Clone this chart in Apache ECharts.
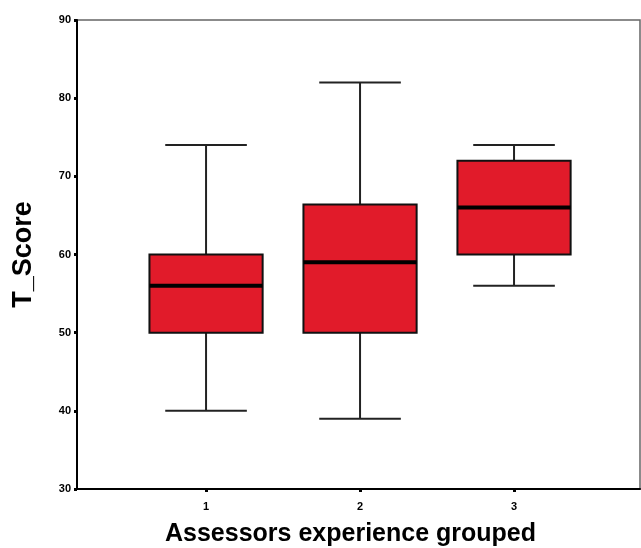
<!DOCTYPE html>
<html>
<head>
<meta charset="utf-8">
<script src="https://cdn.jsdelivr.net/npm/echarts@6/dist/echarts.min.js"></script>
<style>html,body{margin:0;padding:0;background:#fff}#c{width:641px;height:548px}</style>
</head>
<body>
<div id="c"></div>
<script>
var categories = [1, 2, 3];
var mins    = [40, 39, 56];
var q1s     = [50, 50, 60];
var medians = [56, 59, 66];
var q3s     = [60, 66.4, 72];
var maxs    = [74, 82, 74];
var yTicks  = [30, 40, 50, 60, 70, 80, 90];

var data = categories.map(function (c, i) {
  return [c, mins[i], q1s[i], medians[i], q3s[i], maxs[i]];
});

var chart = echarts.init(document.getElementById('c'), null, {renderer: 'canvas'});

function renderItem(params, api) {
  var x = api.value(0);
  var pMin = api.coord([x, api.value(1)]);
  var pQ1 = api.coord([x, api.value(2)]);
  var pMed = api.coord([x, api.value(3)]);
  var pQ3 = api.coord([x, api.value(4)]);
  var pMax = api.coord([x, api.value(5)]);
  var boxW = api.size([0.735, 0])[0];
  var capW = api.size([0.53, 0])[0];
  var cx = pMed[0];
  var lineStyle = {stroke: '#222', lineWidth: 2};
  return {
    type: 'group',
    children: [
      {type: 'line', shape: {x1: cx, y1: pMin[1], x2: cx, y2: pQ1[1]}, style: lineStyle},
      {type: 'line', shape: {x1: cx, y1: pQ3[1], x2: cx, y2: pMax[1]}, style: lineStyle},
      {type: 'line', shape: {x1: cx - capW / 2, y1: pMin[1], x2: cx + capW / 2, y2: pMin[1]}, style: lineStyle},
      {type: 'line', shape: {x1: cx - capW / 2, y1: pMax[1], x2: cx + capW / 2, y2: pMax[1]}, style: lineStyle},
      {type: 'rect', shape: {x: cx - boxW / 2, y: pQ3[1], width: boxW, height: pQ1[1] - pQ3[1]},
        style: {fill: '#e11b2a', stroke: '#111', lineWidth: 2}},
      {type: 'line', shape: {x1: cx - boxW / 2, y1: pMed[1], x2: cx + boxW / 2, y2: pMed[1]},
        style: {stroke: '#000', lineWidth: 4}}
    ]
  };
}

chart.setOption({
  animation: false,
  backgroundColor: '#fff',
  grid: {left: 77, right: 1, top: 20, bottom: 59, outerBoundsMode: 'none', containLabel: false,
    show: true, borderColor: '#666', borderWidth: 1.5, backgroundColor: 'transparent'},
  xAxis: {
    type: 'value', min: 0.162, max: 3.818,
    splitLine: {show: false},
    axisLine: {show: true, onZero: false, lineStyle: {color: '#000', width: 2}},
    axisTick: {show: true, length: 3, customValues: categories, lineStyle: {color: '#000', width: 3}},
    axisLabel: {customValues: categories, color: '#000', fontSize: 11, fontFamily: 'Liberation Sans', fontWeight: 'bold', margin: 12},
    name: 'Assessors experience grouped', nameLocation: 'middle', nameGap: 33,
    nameTextStyle: {color: '#000', fontSize: 25, fontWeight: 'bold', fontFamily: 'Liberation Sans', padding: [0, 16, 0, 0]}
  },
  yAxis: {
    type: 'value', min: 30, max: 90, interval: 10,
    splitLine: {show: false},
    axisLine: {show: true, lineStyle: {color: '#000', width: 2}},
    axisTick: {show: true, length: 3, inside: false, lineStyle: {color: '#000', width: 3}},
    axisLabel: {color: '#000', fontSize: 11, fontFamily: 'Liberation Sans', fontWeight: 'bold', margin: 6},
    name: 'T_Score', nameLocation: 'middle', nameGap: 40, nameRotate: 90,
    nameTextStyle: {color: '#000', fontSize: 27, fontWeight: 'bold', fontFamily: 'Liberation Sans'}
  },
  series: [{
    type: 'custom',
    renderItem: renderItem,
    data: data,
    encode: {x: 0, y: [1, 2, 3, 4, 5]},
    clip: false
  }]
});
</script>
</body>
</html>
